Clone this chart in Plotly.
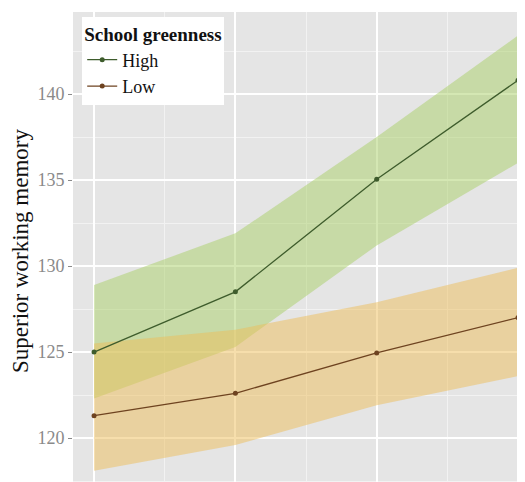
import plotly.graph_objects as go

# Data
time_points = [1, 2, 3, 4]
series_names = ["High", "Low"]
high_mean = [125.0, 128.5, 135.05, 140.8]
high_upper = [128.9, 131.9, 137.5, 143.4]
high_lower = [122.3, 125.3, 131.2, 136.0]
low_mean = [121.3, 122.6, 124.95, 127.0]
low_upper = [125.5, 126.3, 127.9, 129.9]
low_lower = [118.1, 119.6, 121.9, 123.6]
y_ticks = [120, 125, 130, 135, 140]

FONT = "Liberation Serif, Times New Roman, serif"
high_fill = "rgba(170,207,103,0.5)"
low_fill = "rgba(238,190,90,0.5)"
high_line = "#3e5c2c"
low_line = "#6e4320"

fig = go.Figure()

def ribbon(upper, lower, color):
    fig.add_trace(go.Scatter(x=time_points, y=upper, mode="lines",
                             line=dict(width=0), showlegend=False, hoverinfo="skip"))
    fig.add_trace(go.Scatter(x=time_points, y=lower, mode="lines",
                             line=dict(width=0), fill="tonexty", fillcolor=color,
                             showlegend=False, hoverinfo="skip"))

ribbon(high_upper, high_lower, high_fill)
ribbon(low_upper, low_lower, low_fill)

fig.add_trace(go.Scatter(x=time_points, y=high_mean, mode="lines+markers", name=series_names[0],
                         line=dict(color=high_line, width=1.3),
                         marker=dict(color=high_line, size=5)))
fig.add_trace(go.Scatter(x=time_points, y=low_mean, mode="lines+markers", name=series_names[1],
                         line=dict(color=low_line, width=1.3),
                         marker=dict(color=low_line, size=5)))

fig.update_layout(
    width=525, height=482,
    margin=dict(l=65, r=0, t=4, b=0, autoexpand=False),
    paper_bgcolor="white",
    plot_bgcolor="#E5E5E5",
    font=dict(family=FONT, color="#111111"),
    showlegend=True,
    legend=dict(
        title=dict(text="<b>School greenness</b>", font=dict(family=FONT, size=19, color="#111111")),
        font=dict(family=FONT, size=18, color="#111111"),
        traceorder="normal",
        x=0.02, y=0.99, xanchor="left", yanchor="top",
        bgcolor="white", borderwidth=0,
        tracegroupgap=0, itemwidth=30,
    ),
    xaxis=dict(
        range=[0.851, 4.106], automargin=False,
        tickvals=time_points, showticklabels=False, ticks="",
        showgrid=True, gridcolor="white", gridwidth=1.5,
        zeroline=False, showline=False,
        minor=dict(tickvals=[1.5, 2.5, 3.5], showgrid=True, gridcolor="#F2F2F2", gridwidth=0.8),
    ),
    yaxis=dict(
        range=[116.98, 144.77], automargin=False,
        tickvals=y_ticks,
        ticks="outside", ticklen=4, tickcolor="#8a8a8a", tickwidth=1,
        tickfont=dict(family=FONT, size=18, color="#8a8a8a"),
        showgrid=True, gridcolor="white", gridwidth=1.5,
        zeroline=False, showline=False,
        minor=dict(tickvals=[117.5, 122.5, 127.5, 132.5, 137.5, 142.5], showgrid=True,
                   gridcolor="#F2F2F2", gridwidth=0.8),
        title=dict(text="Superior working memory", font=dict(family=FONT, size=23, color="#111111"),
                   standoff=4),
    ),
)

fig.write_html("out.html")
